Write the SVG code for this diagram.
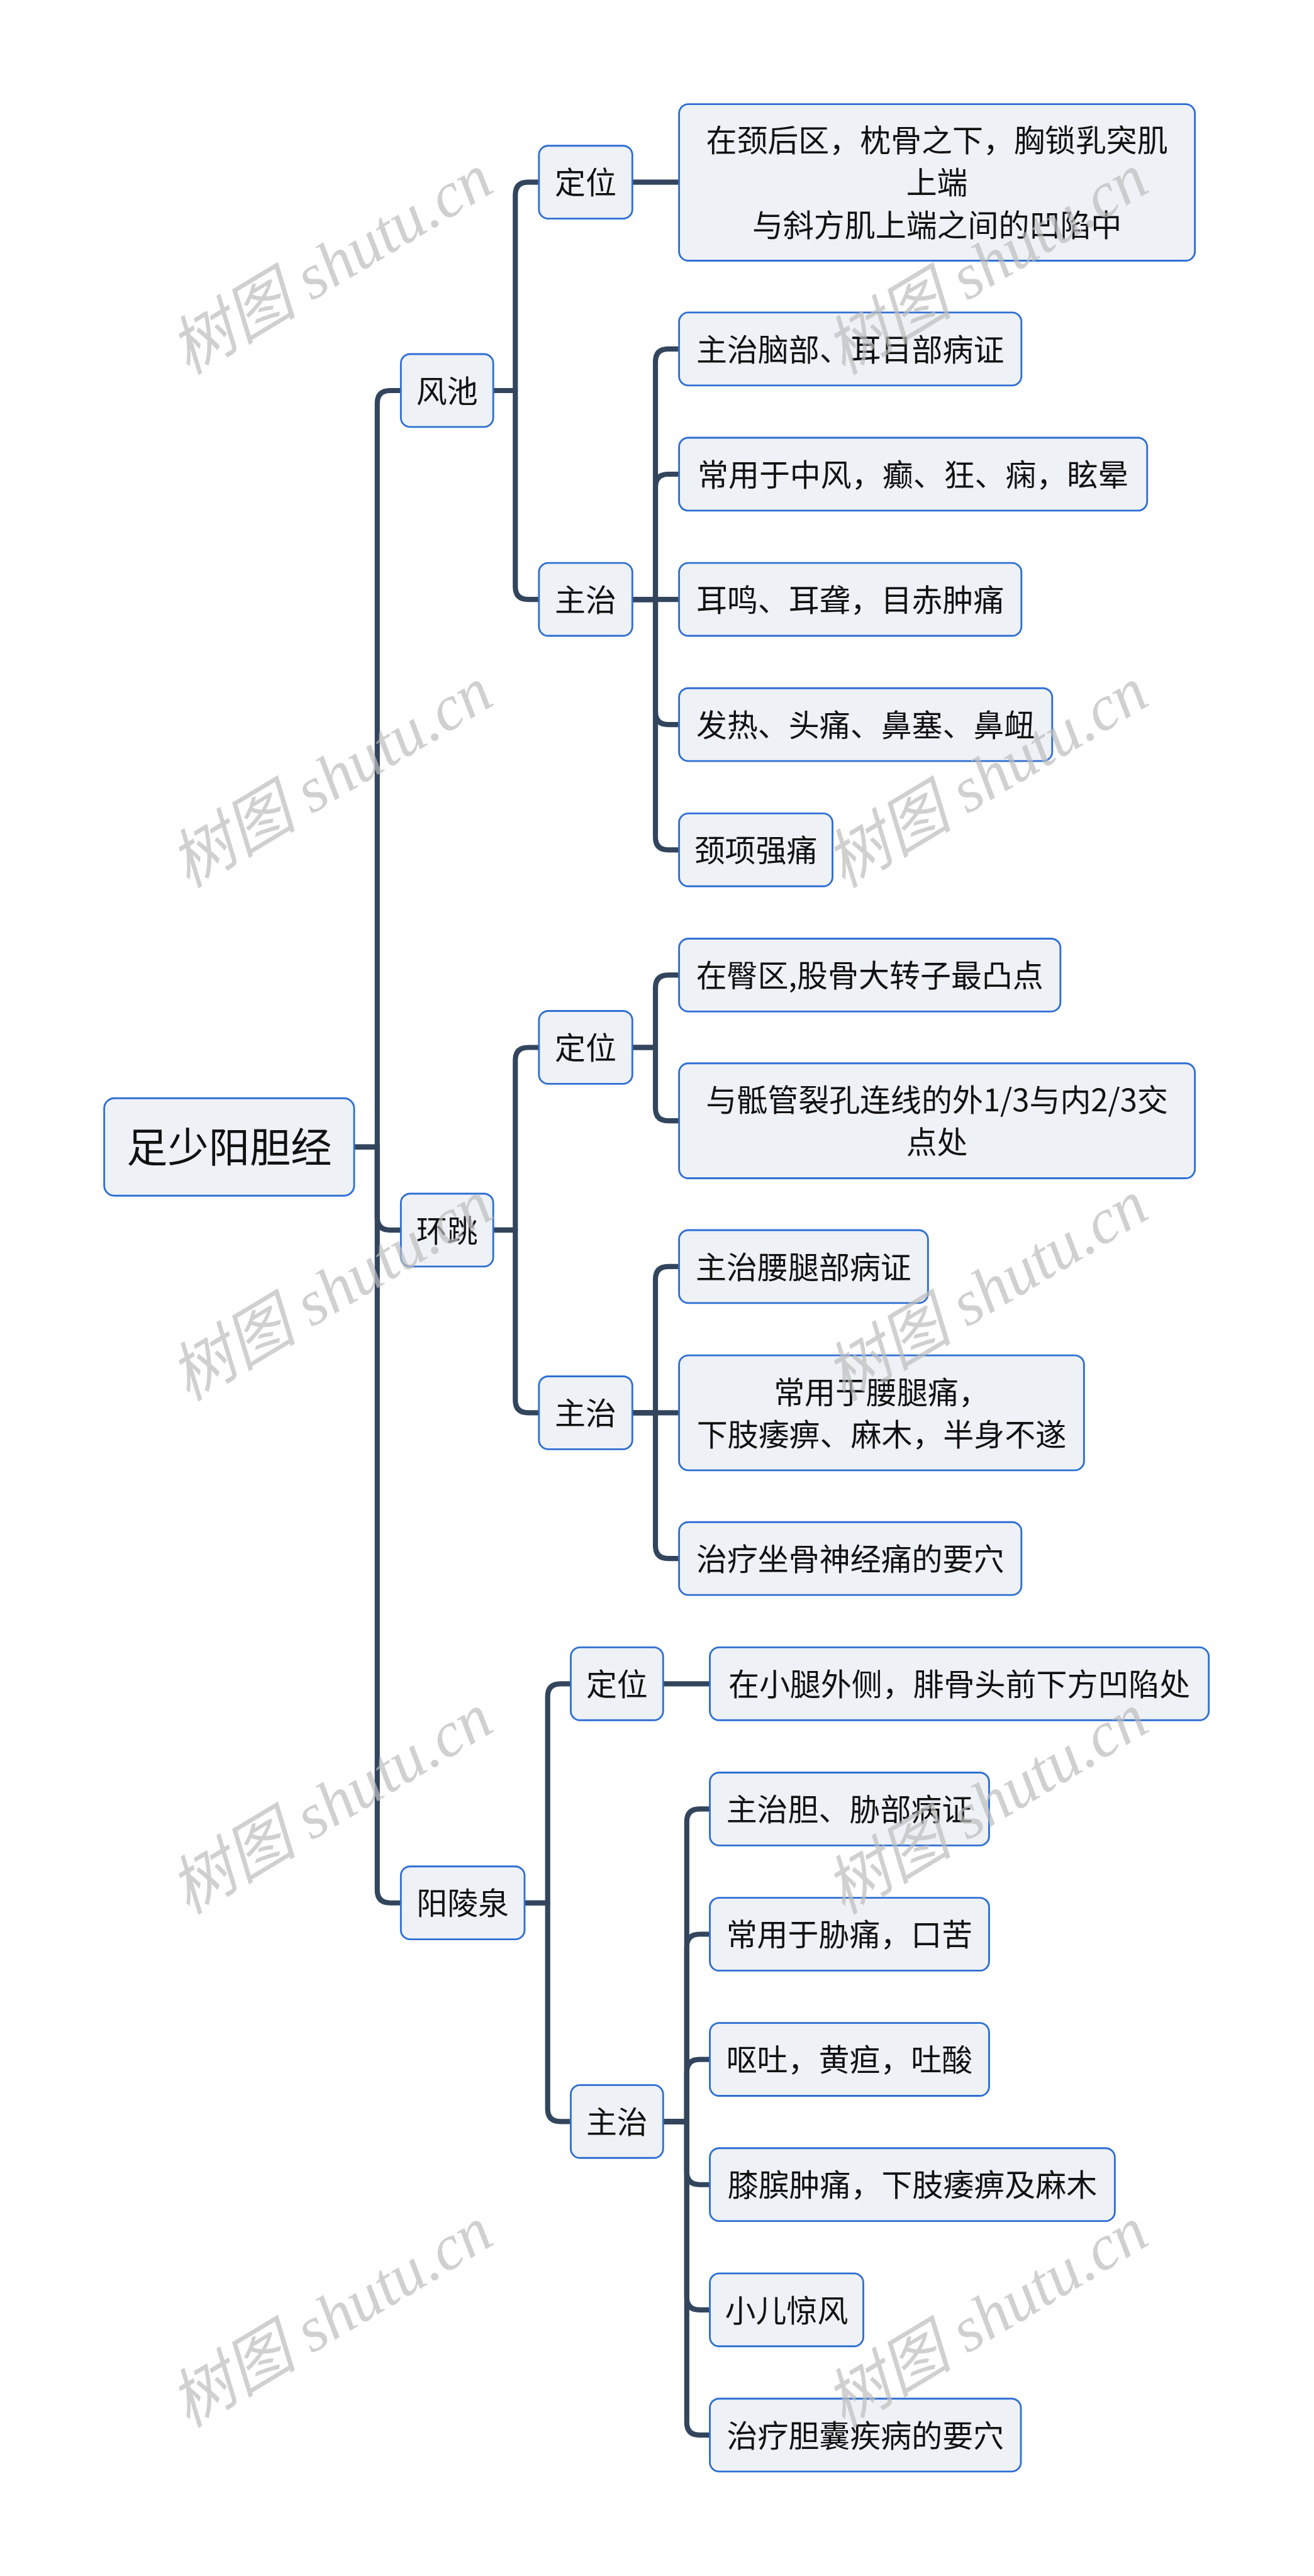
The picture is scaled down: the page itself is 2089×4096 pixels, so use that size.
<svg xmlns="http://www.w3.org/2000/svg" width="2089" height="4096" viewBox="0 0 2089 4096">
<style>
.n rect{fill:#eef1f5;stroke:#2e6fd3;stroke-width:3.5}
.n text{font-family:"Noto Sans CJK SC","Noto Sans",sans-serif;font-size:60px;fill:#111;text-anchor:middle}
.n text.root{font-size:80px}
.c path{fill:none;stroke:#33455c;stroke-width:10;stroke-linejoin:round}
.wm text{font-family:"Liberation Serif","Noto Sans CJK SC",serif;font-style:italic;font-size:125px;fill:#bdbdbd;opacity:0.7;text-anchor:middle}
</style>
<rect width="2089" height="4096" fill="#ffffff"/>
<g transform="scale(0.816)">
<g class="c" id="connectors">
<path d="M690,2235 H735 V786 Q735,761 760,761 H781"/>
<path d="M690,2235 H735 V2372 Q735,2397 760,2397 H781"/>
<path d="M690,2235 H735 V3683 Q735,3708 760,3708 H781"/>
<path d="M960,761 H1004 V380 Q1004,355 1029,355 H1050"/>
<path d="M960,761 H1004 V1143 Q1004,1168 1029,1168 H1050"/>
<path d="M1232,355 H1323"/>
<path d="M1232,1168 H1277 V705 Q1277,680 1302,680 H1323"/>
<path d="M1232,1168 H1277 V949 Q1277,924 1302,924 H1323"/>
<path d="M1232,1168 H1323"/>
<path d="M1232,1168 H1277 V1387 Q1277,1412 1302,1412 H1323"/>
<path d="M1232,1168 H1277 V1631 Q1277,1656 1302,1656 H1323"/>
<path d="M960,2397 H1004 V2066 Q1004,2041 1029,2041 H1050"/>
<path d="M960,2397 H1004 V2728 Q1004,2753 1029,2753 H1050"/>
<path d="M1232,2041 H1277 V1925 Q1277,1900 1302,1900 H1323"/>
<path d="M1232,2041 H1277 V2159 Q1277,2184 1302,2184 H1323"/>
<path d="M1232,2753 H1277 V2493 Q1277,2468 1302,2468 H1323"/>
<path d="M1232,2753 H1323"/>
<path d="M1232,2753 H1277 V3012 Q1277,3037 1302,3037 H1323"/>
<path d="M1021,3708 H1067 V3306 Q1067,3281 1092,3281 H1112"/>
<path d="M1021,3708 H1067 V4109 Q1067,4134 1092,4134 H1112"/>
<path d="M1292,3281 H1383"/>
<path d="M1292,4134 H1338 V3550 Q1338,3525 1363,3525 H1383"/>
<path d="M1292,4134 H1338 V3794 Q1338,3769 1363,3769 H1383"/>
<path d="M1292,4134 H1338 V4038 Q1338,4013 1363,4013 H1383"/>
<path d="M1292,4134 H1338 V4232 Q1338,4257 1363,4257 H1383"/>
<path d="M1292,4134 H1338 V4476 Q1338,4501 1363,4501 H1383"/>
<path d="M1292,4134 H1338 V4720 Q1338,4745 1363,4745 H1383"/>
</g>
<g class="n" id="root"><rect x="203" y="2140" width="487" height="190" rx="20"/><text class="root" x="446.5" y="2265">足少阳胆经</text></g>
<g class="n" id="fengchi"><rect x="781" y="690" width="180" height="142" rx="18"/><text x="871" y="784">风池</text></g>
<g class="n" id="huantiao"><rect x="781" y="2326" width="180" height="142" rx="18"/><text x="871" y="2420">环跳</text></g>
<g class="n" id="yanglingquan"><rect x="781" y="3637" width="241" height="142" rx="18"/><text x="901.5" y="3731">阳陵泉</text></g>
<g class="n" id="fc-dingwei"><rect x="1050" y="284" width="182" height="142" rx="18"/><text x="1141" y="378">定位</text></g>
<g class="n" id="fc-zhuzhi"><rect x="1050" y="1097" width="182" height="142" rx="18"/><text x="1141" y="1191">主治</text></g>
<g class="n" id="ht-dingwei"><rect x="1050" y="1970" width="182" height="142" rx="18"/><text x="1141" y="2064">定位</text></g>
<g class="n" id="ht-zhuzhi"><rect x="1050" y="2682" width="182" height="142" rx="18"/><text x="1141" y="2776">主治</text></g>
<g class="n" id="ylq-dingwei"><rect x="1112" y="3210" width="180" height="142" rx="18"/><text x="1202" y="3304">定位</text></g>
<g class="n" id="ylq-zhuzhi"><rect x="1112" y="4063" width="180" height="142" rx="18"/><text x="1202" y="4157">主治</text></g>
<g class="n" id="n11"><rect x="1323" y="203" width="1005" height="305" rx="18"/><text x="1825.5" y="295">在颈后区，枕骨之下，胸锁乳突肌</text><text x="1825.5" y="378">上端</text><text x="1825.5" y="461">与斜方肌上端之间的凹陷中</text></g>
<g class="n" id="n12"><rect x="1323" y="609" width="667" height="142" rx="18"/><text x="1656.5" y="703">主治脑部、耳目部病证</text></g>
<g class="n" id="n13"><rect x="1323" y="853" width="912" height="142" rx="18"/><text x="1779" y="947">常用于中风，癫、狂、痫，眩晕</text></g>
<g class="n" id="n14"><rect x="1323" y="1097" width="667" height="142" rx="18"/><text x="1656.5" y="1191">耳鸣、耳聋，目赤肿痛</text></g>
<g class="n" id="n15"><rect x="1323" y="1341" width="727" height="142" rx="18"/><text x="1686.5" y="1435">发热、头痛、鼻塞、鼻衄</text></g>
<g class="n" id="n16"><rect x="1323" y="1585" width="299" height="142" rx="18"/><text x="1472.5" y="1679">颈项强痛</text></g>
<g class="n" id="n17"><rect x="1323" y="1829" width="743" height="142" rx="18"/><text x="1694.5" y="1923">在臀区,股骨大转子最凸点</text></g>
<g class="n" id="n18"><rect x="1323" y="2072" width="1005" height="224" rx="18"/><text x="1825.5" y="2166">与骶管裂孔连线的外1/3与内2/3交</text><text x="1825.5" y="2248">点处</text></g>
<g class="n" id="n19"><rect x="1323" y="2397" width="485" height="142" rx="18"/><text x="1565.5" y="2491">主治腰腿部病证</text></g>
<g class="n" id="n20"><rect x="1323" y="2641" width="789" height="224" rx="18"/><text x="1717.5" y="2735">常用于腰腿痛，</text><text x="1717.5" y="2817">下肢痿痹、麻木，半身不遂</text></g>
<g class="n" id="n21"><rect x="1323" y="2966" width="667" height="142" rx="18"/><text x="1656.5" y="3060">治疗坐骨神经痛的要穴</text></g>
<g class="n" id="n22"><rect x="1383" y="3210" width="972" height="142" rx="18"/><text x="1869" y="3304">在小腿外侧，腓骨头前下方凹陷处</text></g>
<g class="n" id="n23"><rect x="1383" y="3454" width="544" height="142" rx="18"/><text x="1655" y="3548">主治胆、胁部病证</text></g>
<g class="n" id="n24"><rect x="1383" y="3698" width="544" height="142" rx="18"/><text x="1655" y="3792">常用于胁痛，口苦</text></g>
<g class="n" id="n25"><rect x="1383" y="3942" width="544" height="142" rx="18"/><text x="1655" y="4036">呕吐，黄疸，吐酸</text></g>
<g class="n" id="n26"><rect x="1383" y="4186" width="789" height="142" rx="18"/><text x="1777.5" y="4280">膝膑肿痛，下肢痿痹及麻木</text></g>
<g class="n" id="n27"><rect x="1383" y="4430" width="299" height="142" rx="18"/><text x="1532.5" y="4524">小儿惊风</text></g>
<g class="n" id="n28"><rect x="1383" y="4674" width="606" height="142" rx="18"/><text x="1686" y="4768">治疗胆囊疾病的要穴</text></g>
<g class="wm" id="watermark">
<text x="646" y="557" transform="rotate(-31 646 517)">树图 shutu.cn</text>
<text x="1923" y="557" transform="rotate(-31 1923 517)">树图 shutu.cn</text>
<text x="646" y="1557" transform="rotate(-31 646 1517)">树图 shutu.cn</text>
<text x="1923" y="1557" transform="rotate(-31 1923 1517)">树图 shutu.cn</text>
<text x="646" y="2557" transform="rotate(-31 646 2517)">树图 shutu.cn</text>
<text x="1923" y="2557" transform="rotate(-31 1923 2517)">树图 shutu.cn</text>
<text x="646" y="3557" transform="rotate(-31 646 3517)">树图 shutu.cn</text>
<text x="1923" y="3557" transform="rotate(-31 1923 3517)">树图 shutu.cn</text>
<text x="646" y="4557" transform="rotate(-31 646 4517)">树图 shutu.cn</text>
<text x="1923" y="4557" transform="rotate(-31 1923 4517)">树图 shutu.cn</text>
</g>
</g>
</svg>
